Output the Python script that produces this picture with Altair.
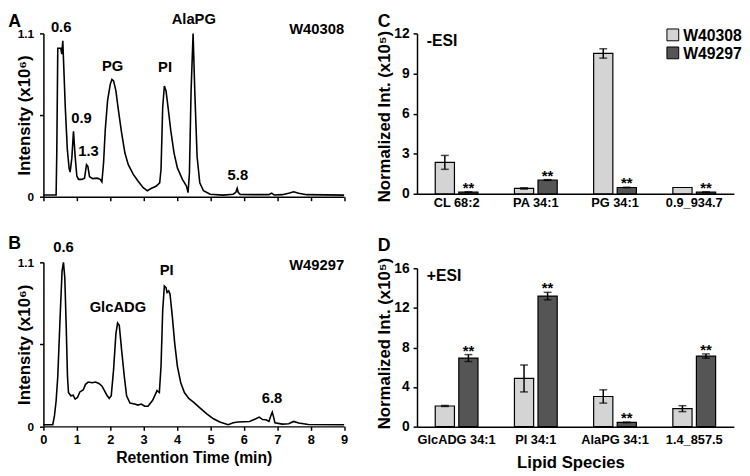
import altair as alt
import pandas as pd

FONT = "Liberation Sans"
LIGHT = "#d4d4d4"
DARK = "#555555"

# ---------------- Panel A chromatogram (W40308) ----------------
a_time = [0.0, 0.38, 0.40, 0.43, 0.46, 0.52, 0.55, 0.58, 0.60, 0.655, 0.715, 0.77, 0.80,
          0.85, 0.90, 0.95, 1.00, 1.05, 1.15, 1.23, 1.29, 1.33, 1.38, 1.48, 1.61, 1.70,
          1.75, 1.80, 1.85, 1.92, 2.00, 2.05, 2.10, 2.17, 2.24, 2.34, 2.44, 2.54, 2.69,
          2.83, 2.98, 3.11, 3.22, 3.37, 3.48, 3.52, 3.57, 3.62, 3.67, 3.73, 3.81, 3.91,
          4.01, 4.16, 4.28, 4.33, 4.37, 4.42, 4.48, 4.53, 4.60, 4.68, 4.79, 4.99, 5.38,
          5.68, 5.76, 5.80, 5.83, 5.89, 6.27, 6.75, 6.83, 6.91, 7.15, 7.34, 7.49, 7.64,
          7.88, 9.0]
a_int = [0.012, 0.012, 0.30, 1.0, 1.0, 1.0, 0.96, 1.05, 0.93, 0.60, 0.32, 0.19, 0.166,
         0.26, 0.44, 0.27, 0.14, 0.117, 0.117, 0.125, 0.216, 0.205, 0.135, 0.122, 0.125, 0.117,
         0.10, 0.227, 0.448, 0.647, 0.757, 0.79, 0.78, 0.713, 0.59, 0.43, 0.294, 0.216, 0.15,
         0.106, 0.063, 0.04, 0.055, 0.07, 0.094, 0.183, 0.603, 0.746, 0.713, 0.603, 0.448, 0.294,
         0.194, 0.117, 0.072, 0.028, 0.16, 0.713, 1.099, 0.713, 0.27, 0.094, 0.04, 0.017, 0.011,
         0.017, 0.03, 0.057, 0.03, 0.015, 0.014, 0.014, 0.024, 0.012, 0.014, 0.024, 0.033, 0.024,
         0.014, 0.011]
a_labels = ["0.6", "0.9", "1.3", "PG", "PI", "AlaPG", "5.8"]
a_label_t = [0.53, 1.14, 1.35, 2.07, 3.64, 4.50, 5.82]
a_label_i = [1.088, 0.474, 0.256, 0.83, 0.817, 1.143, 0.095]

# ---------------- Panel B chromatogram (W49297) ----------------
b_time = [0.0, 0.28, 0.33, 0.38, 0.43, 0.50, 0.558, 0.60, 0.64, 0.68, 0.72, 0.75, 0.82,
          0.89, 0.95, 1.02, 1.09, 1.19, 1.26, 1.34, 1.46, 1.56, 1.66, 1.75, 1.83, 1.90,
          1.97, 2.03, 2.10, 2.17, 2.22, 2.27, 2.34, 2.42, 2.49, 2.59, 2.73, 2.83, 2.93,
          3.03, 3.13, 3.27, 3.40, 3.47, 3.52, 3.57, 3.62, 3.67, 3.70, 3.75, 3.79, 3.86,
          3.93, 4.01, 4.11, 4.22, 4.35, 4.50, 4.70, 4.89, 5.09, 5.28, 5.53, 5.68, 5.83,
          6.17, 6.36, 6.46, 6.56, 6.66, 6.75, 6.81, 6.85, 6.89, 6.93, 7.15, 7.34, 7.49,
          7.64, 7.93, 9.0]
b_int = [0.011, 0.011, 0.07, 0.17, 0.336, 0.733, 1.041, 1.10, 0.997, 0.689, 0.336, 0.227, 0.205,
         0.209, 0.183, 0.194, 0.231, 0.244, 0.282, 0.297, 0.293, 0.297, 0.288, 0.271, 0.238, 0.209,
         0.187, 0.205, 0.381, 0.623, 0.693, 0.678, 0.513, 0.336, 0.205, 0.156, 0.15, 0.143, 0.15,
         0.135, 0.135, 0.175, 0.24, 0.227, 0.403, 0.777, 0.942, 0.931, 0.898, 0.909, 0.887, 0.733,
         0.557, 0.403, 0.293, 0.227, 0.187, 0.161, 0.121, 0.084, 0.051, 0.029, 0.011, 0.024, 0.029,
         0.033, 0.051, 0.062, 0.046, 0.044, 0.033, 0.073, 0.095, 0.062, 0.024, 0.015, 0.018, 0.033,
         0.022, 0.013, 0.011]
b_labels = ["0.6", "GlcADG", "PI", "6.8"]
b_label_t = [0.60, 2.23, 3.69, 6.84]
b_label_i = [1.151, 0.748, 0.993, 0.135]

# ---------------- Bar panels ----------------
strains = ["W40308", "W49297"]

c_species = ["CL 68:2", "PA 34:1", "PG 34:1", "0.9_934.7"]
c_w40308 = [2.35, 0.40, 10.5, 0.47]
c_w40308_err = [0.52, 0.05, 0.35, 0.0]
c_w49297 = [0.12, 1.03, 0.47, 0.12]
c_w49297_err = [0.03, 0.03, 0.02, 0.02]
c_w49297_sig = ["**", "**", "**", "**"]

d_species = ["GlcADG 34:1", "PI 34:1", "AlaPG 34:1", "1.4_857.5"]
d_w40308 = [2.09, 4.87, 3.05, 1.82]
d_w40308_err = [0.05, 1.36, 0.67, 0.30]
d_w49297 = [6.93, 13.19, 0.43, 7.13]
d_w49297_err = [0.35, 0.38, 0.03, 0.22]
d_w49297_sig = ["**", "**", "**", "**"]

ticks_t = list(range(10))


def label_layer(text, x, y, size=18, align="left", baseline="top"):
    return alt.Chart(pd.DataFrame({"s": [text]})).mark_text(
        font=FONT, fontWeight="bold", fontSize=size, align=align, baseline=baseline, color="black"
    ).encode(x=alt.value(x), y=alt.value(y), text="s:N")


def chrom(times, ints, labs, lt, li, strain, strain_i, letter, letter_y, show_x, height):
    df = pd.DataFrame({"t": times, "i": ints})
    xscale = alt.Scale(domain=[0, 9], nice=False, zero=False)
    yscale = alt.Scale(domain=[0, 1.1], nice=False)
    if show_x:
        xaxis = alt.Axis(values=ticks_t, tickCount=10, tickSize=4, labelPadding=3,
                         labelFontSize=13, labelOverlap=False, labelFlush=False,
                         title="Retention Time (min)", titleFontSize=16, titlePadding=4)
    else:
        xaxis = alt.Axis(values=ticks_t, tickCount=10, tickSize=4, labels=False, title=None)
    yaxis = alt.Axis(values=[0, 0.55, 1.1],
                     labelExpr="datum.value == 0 ? '0' : (datum.value > 1 ? '1.1' : '')",
                     tickSize=4, labelPadding=6, labelFontSize=12, labelOverlap=False,
                     title="Intensity (x10⁶)", titleFontSize=17, titleX=-10, titleY=height / 2)
    X = alt.X("t:Q", scale=xscale, axis=xaxis)
    Y = alt.Y("i:Q", scale=yscale, axis=yaxis)
    line = alt.Chart(df).mark_line(color="black", strokeWidth=1.6).encode(x=X, y=Y)
    ann = alt.Chart(pd.DataFrame({"t": lt, "i": li, "lab": labs})).mark_text(
        font=FONT, fontWeight="bold", fontSize=15, baseline="bottom", align="center", color="black"
    ).encode(x=X, y=Y, text="lab:N")
    st = alt.Chart(pd.DataFrame({"t": [9.0], "i": [strain_i], "lab": [strain]})).mark_text(
        font=FONT, fontWeight="bold", fontSize=15, baseline="bottom", align="right", color="black"
    ).encode(x=X, y=Y, text="lab:N")
    let = label_layer(letter, -35.7, letter_y)
    return alt.layer(line, ann, st, let).properties(width=305.6, height=height)


def bars(species, v1, e1, v2, e2, sig2, ymax, yvals, letter, letter_y, mode, mode_y, lab_pad,
         lab_size, show_title, height, yrange, title_y, legend):
    rows = []
    for k, s in enumerate(species):
        rows.append({"species": s, "strain": strains[0], "value": v1[k], "err": e1[k],
                     "lo": v1[k] - e1[k], "hi": v1[k] + e1[k], "sig": ""})
        rows.append({"species": s, "strain": strains[1], "value": v2[k], "err": e2[k],
                     "lo": v2[k] - e2[k], "hi": v2[k] + e2[k], "sig": sig2[k]})
    df = pd.DataFrame(rows)
    if show_title:
        xaxis = alt.Axis(labelAngle=0, ticks=False, labelPadding=lab_pad, labelFontSize=lab_size,
                         labelOverlap=False, title="Lipid Species", titleFontSize=17,
                         titlePadding=9, titleX=156, titleAlign="center")
    else:
        xaxis = alt.Axis(labelAngle=0, ticks=False, labelPadding=lab_pad, labelFontSize=lab_size,
                         labelOverlap=False, title=None)
    x = alt.X("species:N", sort=species, scale=alt.Scale(paddingInner=0.46, paddingOuter=0.23),
              axis=xaxis)
    xo = alt.XOffset("strain:N", sort=strains, scale=alt.Scale(paddingInner=0.184, paddingOuter=0))
    yscale = alt.Scale(domain=[0, ymax], nice=False, range=yrange)
    yaxis = alt.Axis(values=yvals, tickSize=4, labelPadding=4, labelFontSize=14,
                     title="Normalized Int. (x10⁵)", titleFontSize=17, titleX=-24, titleY=title_y)
    base = alt.Chart(df)
    b = base.mark_bar(stroke="black", strokeWidth=1.2).encode(
        x=x, xOffset=xo,
        y=alt.Y("value:Q", scale=yscale, axis=yaxis),
        color=alt.Color("strain:N", scale=alt.Scale(domain=strains, range=[LIGHT, DARK]), legend=None),
    )
    errdf = base.transform_filter(alt.datum.err > 0)
    rule = errdf.mark_rule(color="black", strokeWidth=1.5).encode(
        x=x, xOffset=xo, y="lo:Q", y2="hi:Q")
    cap_lo = errdf.mark_tick(color="black", thickness=1.5, size=8, orient="horizontal").encode(
        x=x, xOffset=xo, y="lo:Q")
    cap_hi = errdf.mark_tick(color="black", thickness=1.5, size=8, orient="horizontal").encode(
        x=x, xOffset=xo, y="hi:Q")
    star = base.transform_filter(alt.datum.sig == "**").mark_text(
        font=FONT, fontWeight="bold", fontSize=15, baseline="alphabetic", align="center", dy=1,
        color="black"
    ).encode(x=x, xOffset=xo, y="hi:Q", text="sig:N")
    layers = [b, rule, cap_lo, cap_hi, star,
              label_layer(letter, -40, letter_y),
              label_layer(mode, 10, mode_y, size=16, baseline="alphabetic")]
    if legend:
        for k, s in enumerate(strains):
            sq = alt.Chart(pd.DataFrame({"s": [s]})).mark_square(
                size=144, stroke="black", strokeWidth=1, opacity=1,
                fill=[LIGHT, DARK][k]).encode(x=alt.value(260), y=alt.value(1.5 + 18.3 * k))
            layers.append(sq)
            layers.append(label_layer(s, 270.5, 7.3 + 18.3 * k, size=16, baseline="alphabetic"))
    return alt.layer(*layers).properties(width=322, height=height)


A = chrom(a_time, a_int, a_labels, a_label_t, a_label_i, "W40308", 1.077, "A", -20.3, False, 166)
B = chrom(b_time, b_int, b_labels, b_label_t, b_label_i, "W49297", 1.03, "B", -28, True, 166.7)
C = bars(c_species, c_w40308, c_w40308_err, c_w49297, c_w49297_err, c_w49297_sig, 12,
         [0, 3, 6, 9, 12], "C", -20, "-ESI", 12.5, 3, 13, False, 163, [163, 0], 84, True)
D = bars(d_species, d_w40308, d_w40308_err, d_w49297, d_w49297_err, d_w49297_sig, 16,
         [0, 4, 8, 12, 16], "D", -26, "+ESI", 19, 7, 13, True, 167, [167, 6], 82, False)

chart = alt.concat(A, C, B, D, columns=2, spacing={"row": 66.7, "column": 73.7},
                   bounds="flush").properties(
    padding=0, background="white"
).configure_view(stroke=None).configure_axis(
    domainColor="black", domainWidth=1.5, tickColor="black", tickWidth=1.5, grid=False,
    labelFont=FONT, labelFontWeight="bold", labelColor="black",
    titleFont=FONT, titleFontWeight="bold", titleColor="black"
)

chart.save("out.html", embed_options={"renderer": "svg", "actions": False})
